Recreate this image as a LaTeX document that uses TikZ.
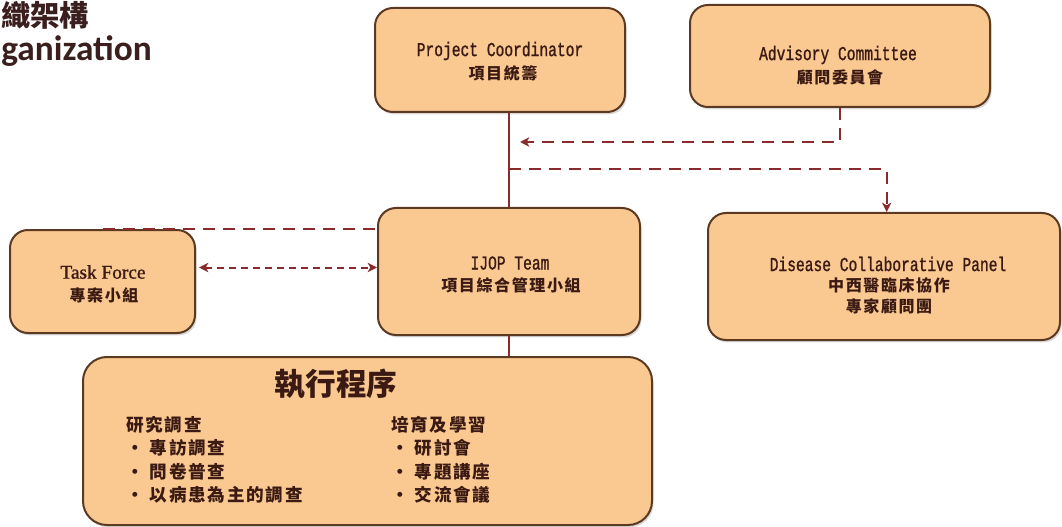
\documentclass[tikz,border=0pt]{standalone}
\usepackage{fontspec}
\usetikzlibrary{arrows.meta,shadows,calc}
\newfontfamily\cjk[LetterSpace=10]{Noto Sans CJK TC}
\newfontfamily\cjkt{Noto Sans CJK TC}
\newfontfamily\boxmono[FakeStretch=0.74,FakeBold=1]{Liberation Mono}
\newfontfamily\boxserif[FakeBold=1]{Liberation Serif}
\newfontfamily\headsans{Carlito}
\definecolor{boxfill}{HTML}{FAC891}
\definecolor{boxline}{HTML}{5C3A22}
\definecolor{linkcol}{HTML}{8B2A2A}
\definecolor{txtcol}{HTML}{3A1A12}
\definecolor{headcol}{HTML}{3B1F1F}
\tikzset{
  orgbox/.style={draw=boxline, fill=boxfill, line width=1.5pt, rounded corners=13.5pt,
    inner sep=0pt, drop shadow={shadow xshift=1.2pt, shadow yshift=-1.8pt, opacity=0.3}},
  lbl/.style={inner sep=0pt, text=txtcol},
  entxt/.style={lbl, font=\boxmono\fontsize{14.8pt}{16pt}\selectfont},
  zhtxt/.style={lbl, font=\cjk\bfseries\fontsize{12pt}{13pt}\selectfont},
  solidlink/.style={draw=linkcol, line width=1.5pt},
  longdash/.style={draw=linkcol, line width=1.5pt, dash pattern=on 9pt off 6pt},
  shortdash/.style={draw=linkcol, line width=1.5pt, dash pattern=on 5pt off 4pt},
  tip/.style={-{Stealth[length=7pt,width=7pt,inset=2pt]}},
}
\begin{document}
\begin{tikzpicture}[x=0.75pt,y=-0.75pt]
\useasboundingbox (0,0) rectangle (1062,527);

% title (the picture shows only its right part)
\node[anchor=west, inner sep=0pt, text=headcol, font=\cjkt\bfseries\fontsize{22pt}{26pt}\selectfont] (t1) at (1,15) {織架構};
\node[anchor=base west, inner sep=0pt, text=headcol, font=\headsans\bfseries\fontsize{26.5pt}{29pt}\selectfont] (t2) at (1,61) {ganization};

% boxes
\node[orgbox, minimum width=187.5pt, minimum height=78pt] (pc) at (500,60) {};
\node[orgbox, minimum width=225pt, minimum height=76.5pt] (ac) at (840,56) {};
\node[orgbox, minimum width=196.5pt, minimum height=95.25pt] (ijop) at (509,271.5) {};
\node[orgbox, minimum width=138.75pt, minimum height=77.25pt] (tf) at (102.5,281.5) {};
\node[orgbox, minimum width=264pt, minimum height=95.25pt] (dcp) at (884,276.5) {};
\node[orgbox, rounded corners=18pt, minimum width=426.75pt, minimum height=126pt] (exec) at (367.5,441) {};

% box texts
\node[entxt] (pcen) at (500,51) {Project Coordinator};
\node[zhtxt] (pczh) at (503,73) {項目統籌};
\node[entxt] (acen) at (838,55) {Advisory Committee};
\node[zhtxt] (aczh) at (840,77) {顧問委員會};
\node[entxt] (ijen) at (510,263) {IJOP Team};
\node[zhtxt] (ijzh) at (511,285) {項目綜合管理小組};
\node[lbl, font=\boxserif\fontsize{14.5pt}{16pt}\selectfont] (tfen) at (103,272) {Task Force};
\node[zhtxt] (tfzh) at (104,295) {專案小組};
\node[entxt] (dcpen) at (888,264) {Disease Collaborative Panel};
\node[zhtxt] (dcpzh1) at (889,285) {中西醫臨床協作};
\node[zhtxt] (dcpzh2) at (889,306) {專家顧問團};

\node[lbl, font=\cjkt\bfseries\fontsize{23pt}{26pt}\selectfont] (exect) at (336,384) {執行程序};
\node[lbl, anchor=north west, align=left, font=\cjk\bfseries\fontsize{13.2pt}{17.5pt}\selectfont] (lista) at (126,416)
  {研究調查\\• 專訪調查\\• 問卷普查\\• 以病患為主的調查};
\node[lbl, anchor=north west, align=left, font=\cjk\bfseries\fontsize{13.2pt}{17.5pt}\selectfont] (listb) at (391,416)
  {培育及學習\\• 研討會\\• 專題講座\\• 交流會議};

% connectors
\draw[solidlink] (ijop.north |- pc.south) -- (ijop.north);
\draw[solidlink] (ijop.south) -- (ijop.south |- exec.north);

\coordinate (acend) at (520,142);
\draw[longdash, tip] (ac.south) |- (acend);

\coordinate (branch) at ($(ijop.north |- pc.south)!0.6!(ijop.north)$);
\draw[longdash, tip] (branch) -| ([xshift=2pt]dcp.north);

\draw[longdash] (tf.north) -- (tf.north -| ijop.west);
\coordinate (tfr) at ($(tf.east)+(3,-14)$);
\draw[shortdash, {Stealth[length=7pt,width=7pt,inset=2pt]}-{Stealth[length=7pt,width=7pt,inset=2pt]}] (tfr) -- (tfr -| ijop.west);
\end{tikzpicture}
\end{document}
